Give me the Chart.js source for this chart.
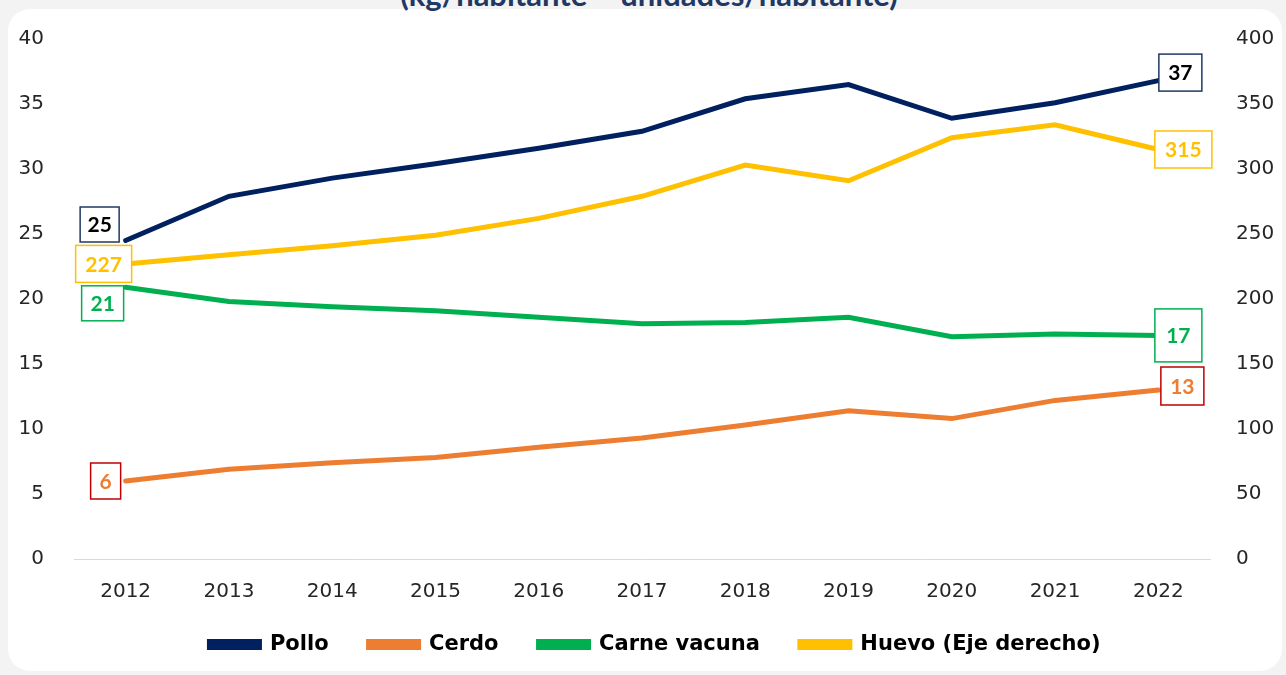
<!DOCTYPE html>
<html lang="es">
<head>
<meta charset="UTF-8">
<title>Consumo per cápita</title>
<script src="https://cdn.jsdelivr.net/npm/chart.js"></script>
<style>
  html, body { margin: 0; padding: 0; }
  body { width: 1286px; height: 675px; background: #f3f3f3; position: relative; overflow: hidden; font-family: "Lato", sans-serif; }
  .panel { position: absolute; left: 8px; top: 9px; width: 1274px; height: 662px; background: #fff; border-radius: 22px; }
  .titulo { position: absolute; left: 6px; width: 1286px; top: -25px; text-align: center; font: bold 31px "Lato", sans-serif; color: #1f3864; }
  .caja { position: absolute; left: 0; top: 0; width: 1286px; height: 675px; }
</style>
</head>
<body>
<div class="panel"></div>
<div class="titulo">(kg/habitante – unidades/habitante)</div>
<div class="caja"><canvas id="grafico" width="1286" height="675"></canvas></div>
<script>
var anios = ['2012', '2013', '2014', '2015', '2016', '2017', '2018', '2019', '2020', '2021', '2022'];
var pollo = [24.5, 27.9, 29.3, 30.4, 31.6, 32.9, 35.4, 36.5, 33.9, 35.1, 36.8];
var cerdo = [6.0, 6.9, 7.4, 7.8, 8.6, 9.3, 10.3, 11.4, 10.8, 12.2, 13.0];
var carneVacuna = [20.9, 19.8, 19.4, 19.1, 18.6, 18.1, 18.2, 18.6, 17.1, 17.3, 17.2];
var huevo = [227, 234, 241, 249, 262, 279, 303, 291, 324, 334, 315];

// etiquetas de inicio y fin: [texto inicio, texto fin]
var etiquetasPollo = ['25', '37'];
var etiquetasCerdo = ['6', '13'];
var etiquetasVacuna = ['21', '17'];
var etiquetasHuevo = ['227', '315'];

var fuente = '"Lato", sans-serif';
var fuenteEjes = '"DejaVu Sans", sans-serif';
var fuenteLeyenda = '"DejaVu Sans", sans-serif';

// cajas de etiquetas (dx, dy relativos al punto, ancho, alto)
var estiloCajas = [
  { textos: etiquetasPollo, texto: '#000000', borde: '#1f3864', ini: [-26, -16, 39, 35], fin: [22, -8, 43, 37] },
  { textos: etiquetasCerdo, texto: '#ed7d31', borde: '#c00000', ini: [-20, 0, 30, 36], fin: [24, -4, 43, 38] },
  { textos: etiquetasVacuna, texto: '#00b050', borde: '#00b050', ini: [-23, 16, 42, 35], fin: [20, 0, 47, 53] },
  { textos: etiquetasHuevo, texto: '#ffc000', borde: '#ffc000', ini: [-22, 0, 56, 37], fin: [25, 0, 57, 37] }
];

var cajasPlugin = {
  id: 'cajas',
  afterLayout: function(chart) {
    // sube la leyenda y la corre un poco a la derecha, como en el original
    chart.legend.top -= 10;
    chart.legend.bottom -= 10;
    chart.legend.left += 12;
    chart.legend.right += 12;
  },
  afterDatasetsDraw: function(chart) {
    var ctx = chart.ctx;
    ctx.save();
    ctx.font = 'bold 21px ' + fuente;
    ctx.textAlign = 'center';
    ctx.textBaseline = 'middle';
    ctx.lineWidth = 1.5;
    estiloCajas.forEach(function(est, i) {
      var puntos = chart.getDatasetMeta(i).data;
      [[puntos[0], est.ini, est.textos[0]], [puntos[puntos.length - 1], est.fin, est.textos[1]]].forEach(function(p) {
        var cx = p[0].x + p[1][0], cy = p[0].y + p[1][1];
        var w = p[1][2], h = p[1][3];
        ctx.fillStyle = '#ffffff';
        ctx.fillRect(cx - w / 2, cy - h / 2, w, h);
        ctx.strokeStyle = est.borde;
        ctx.strokeRect(cx - w / 2, cy - h / 2, w, h);
        ctx.fillStyle = est.texto;
        ctx.fillText(p[2], cx, cy + 1);
      });
    });
    ctx.restore();
  }
};

function serie(nombre, datos, color, eje) {
  return {
    label: nombre,
    data: datos,
    borderColor: color,
    backgroundColor: color,
    borderWidth: 5,
    borderCapStyle: 'round',
    pointRadius: 0,
    tension: 0,
    yAxisID: eje
  };
}

new Chart(document.getElementById('grafico'), {
  type: 'line',
  data: {
    labels: anios,
    datasets: [
      serie('Pollo', pollo, '#002060', 'y'),
      serie('Cerdo', cerdo, '#ed7d31', 'y'),
      serie('Carne vacuna', carneVacuna, '#00b050', 'y'),
      serie('Huevo (Eje derecho)', huevo, '#ffc000', 'y1')
    ]
  },
  options: {
    responsive: false,
    animation: false,
    layout: { padding: { top: 39, bottom: 0 } },
    plugins: {
      tooltip: { enabled: false },
      legend: {
        position: 'bottom',
        labels: {
          boxWidth: 50,
          boxHeight: 6,
          padding: 40,
          color: '#000000',
          font: { family: fuenteLeyenda, size: 21, weight: 'bold' }
        }
      }
    },
    scales: {
      x: {
        offset: true,
        grid: { display: false },
        border: { display: true, color: '#d9d9d9', width: 1 },
        ticks: { color: '#262626', padding: 13, font: { family: fuenteEjes, size: 20 } },
        afterFit: function(s) { s.height = 45; }
      },
      y: {
        position: 'left',
        min: 0, max: 40,
        grid: { display: false },
        border: { display: false },
        ticks: { stepSize: 5, color: '#262626', padding: 22, font: { family: fuenteEjes, size: 20 } },
        afterFit: function(s) { s.width = 74; }
      },
      y1: {
        position: 'right',
        min: 0, max: 400,
        grid: { display: false },
        border: { display: false },
        ticks: { stepSize: 50, color: '#262626', padding: 18, font: { family: fuenteEjes, size: 20 } },
        afterFit: function(s) { s.width = 76; }
      }
    }
  },
  plugins: [cajasPlugin]
});
</script>
</body>
</html>
